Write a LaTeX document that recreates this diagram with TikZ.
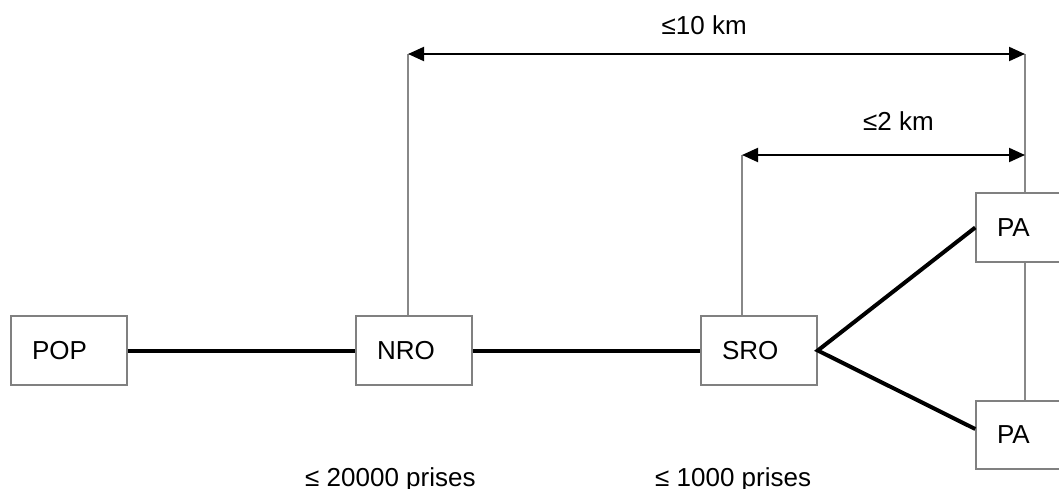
\documentclass[tikz,border=0pt]{standalone}
\usepackage{fontspec}
\setmainfont{Liberation Sans}
\usetikzlibrary{arrows.meta,calc}
\definecolor{boxgray}{RGB}{128,128,128}
\definecolor{linegray}{RGB}{136,136,136}
\begin{document}
\begin{tikzpicture}[x=1pt,y=-1pt,
  txt/.style={font=\fontsize{26}{30}\selectfont},
  box/.style={txt, draw=boxgray, line width=1.5, minimum height=69, text width=74,
    inner xsep=21, inner ysep=0, align=left},
  thick line/.style={line width=4, black},
  thin link/.style={linegray, line width=1.2},
  dim/.style={line width=2, black, {Triangle[length=16,width=14]}-{Triangle[length=16,width=14]}},
  lbl/.style={txt, anchor=base west, inner sep=0}]
\useasboundingbox (0,0) rectangle (1059,488);
\clip (0,0) rectangle (1059,488);
\fill[white] (0,0) rectangle (1059,488);

\node[box] (POP) at (69,350.5) {POP};
\node[box] (NRO) at (414,350.5) {NRO};
\node[box] (SRO) at (759,350.5) {SRO};
\node[box, minimum height=69] (PA1) at (1034,227.5) {PA};
\node[box, minimum height=68] (PA2) at (1034,435) {PA};

\coordinate (a1) at (408,54);
\coordinate (b1) at (1025,54);
\coordinate (a2) at (742,155);
\coordinate (b2) at (1025,155);

% thin gray connectors
\draw[thin link] (a1 |- NRO.north) -- (a1);
\draw[thin link] (a2 |- SRO.north) -- (a2);
\draw[thin link] (b1 |- PA1.north) -- (b1);
\draw[thin link] (b1 |- PA1.south) -- (b1 |- PA2.north);

% dimension arrows
\draw[dim] (a1) -- (b1);
\draw[dim] (a2) -- (b2);

% thick links
\draw[thick line] (POP.east) -- (NRO.west);
\draw[thick line] (NRO.east) -- (SRO.west);
\draw[thick line] (PA1.west) -- (SRO.east) -- ($(PA2.west)+(0,-6)$);

% labels
\node[lbl] (l10) at (661.5,34) {≤10 km};
\node[lbl] (l2) at (863,130) {≤2 km};
\node[lbl] (p20) at (305,486) {≤ 20000 prises};
\node[lbl] (p1) at (655,486) {≤ 1000 prises};
\end{tikzpicture}
\end{document}
